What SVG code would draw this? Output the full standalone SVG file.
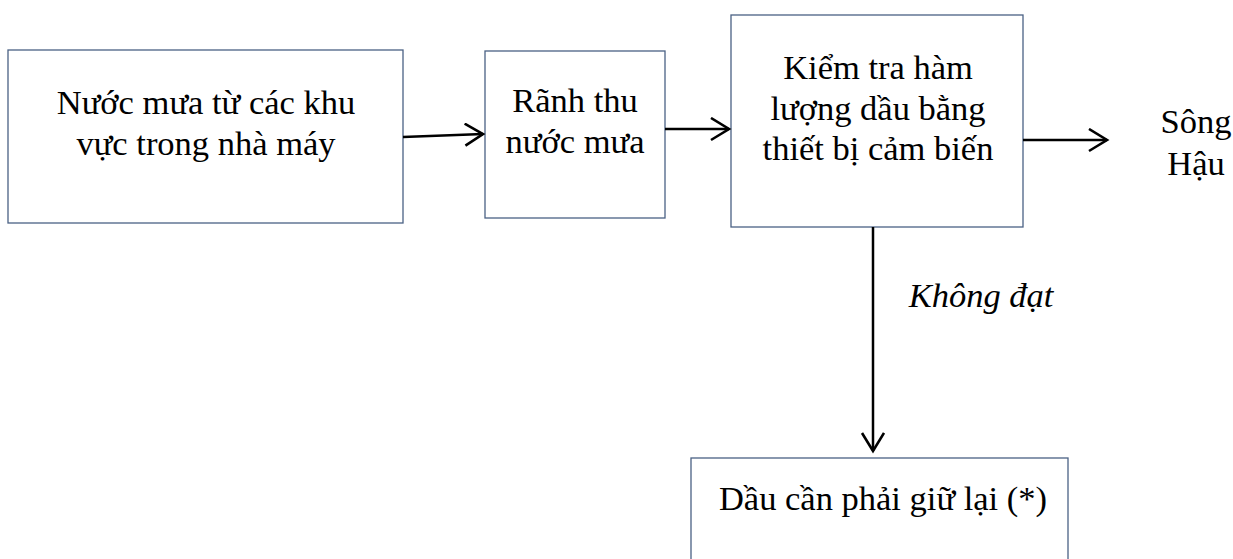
<svg xmlns="http://www.w3.org/2000/svg" width="1233" height="559" viewBox="0 0 1233 559">
<style>
.box{fill:#fff;stroke:#4a6184;stroke-width:1.3}
.t{font-family:"Liberation Serif","Times New Roman",serif;font-size:34.5px;fill:#000;text-anchor:middle}
.it{font-style:italic}
.c{stroke:#000;stroke-width:2.5;fill:none}
</style>
<defs>
<marker id="ah" markerUnits="userSpaceOnUse" markerWidth="24" markerHeight="28" refX="19" refY="12" orient="auto">
<path d="M1,1 L19,12 L1,23" fill="none" stroke="#000" stroke-width="2.6"/>
</marker>
</defs>
<rect width="1233" height="559" fill="#fff"/>
<g id="n1"><rect class="box" x="8" y="50" width="395" height="173"/>
<text class="t" x="206" y="114">Nước mưa từ các khu</text>
<text class="t" x="206" y="155">vực trong nhà máy</text></g>
<g id="n2"><rect class="box" x="485" y="51" width="180" height="167"/>
<text class="t" x="575" y="112">Rãnh thu</text>
<text class="t" x="575" y="153">nước mưa</text></g>
<g id="n3"><rect class="box" x="731" y="15" width="292" height="212"/>
<text class="t" x="878" y="79">Kiểm tra hàm</text>
<text class="t" x="878" y="120">lượng dầu bằng</text>
<text class="t" x="878" y="160">thiết bị cảm biến</text></g>
<g id="n4"><text class="t" x="1196" y="133">Sông</text>
<text class="t" x="1196" y="175">Hậu</text></g>
<g id="n5"><rect class="box" x="691" y="458" width="377" height="120"/>
<text class="t" x="883" y="510">Dầu cần phải giữ lại (*)</text></g>
<g id="connectors">
<line class="c" x1="403" y1="137" x2="483" y2="134" marker-end="url(#ah)"/>
<line class="c" x1="665" y1="129" x2="729" y2="129" marker-end="url(#ah)"/>
<line class="c" x1="1023" y1="140" x2="1107" y2="140" marker-end="url(#ah)"/>
<line class="c" x1="873" y1="227" x2="873" y2="451" marker-end="url(#ah)"/>
<text class="t it" x="981" y="307">Không đạt</text>
</g>
</svg>
